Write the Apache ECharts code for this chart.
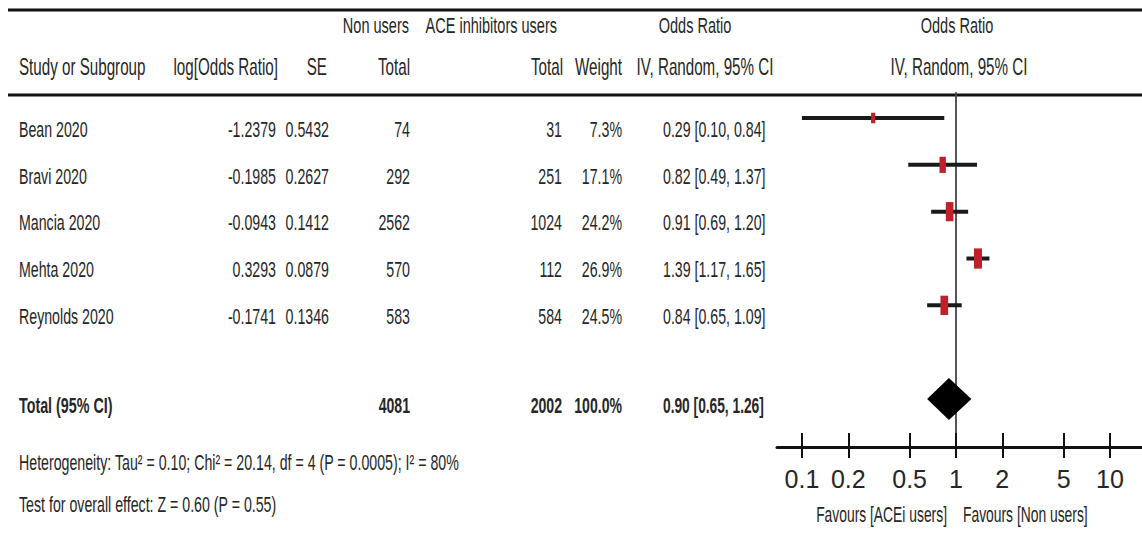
<!DOCTYPE html>
<html><head><meta charset="utf-8">
<script src="https://cdn.jsdelivr.net/npm/echarts@6/dist/echarts.min.js"></script>
<style>html,body{margin:0;padding:0;background:#fff}#c{width:1142px;height:537px}</style>
</head><body><div id="c"></div>
<script>
// ---------------- data ----------------
const studies = ['Bean 2020', 'Bravi 2020', 'Mancia 2020', 'Mehta 2020', 'Reynolds 2020'];
const logOddsRatio = ['-1.2379', '-0.1985', '-0.0943', '0.3293', '-0.1741'];
const standardError = ['0.5432', '0.2627', '0.1412', '0.0879', '0.1346'];
const nonUsersTotal = [74, 292, 2562, 570, 583];
const aceUsersTotal = [31, 251, 1024, 112, 584];
const weights = [7.3, 17.1, 24.2, 26.9, 24.5];
const oddsRatio = [0.29, 0.82, 0.91, 1.39, 0.84];
const ciLower = [0.10, 0.49, 0.69, 1.17, 0.65];
const ciUpper = [0.84, 1.37, 1.20, 1.65, 1.09];

const totalLabel = 'Total (95% CI)';
const totalNonUsers = 4081;
const totalAceUsers = 2002;
const totalWeight = 100.0;
const totalOR = 0.90;
const totalLower = 0.65;
const totalUpper = 1.26;

const tickValues = [0.1, 0.2, 0.5, 1, 2, 5, 10];
const tickLabels = ['0.1', '0.2', '0.5', '1', '2', '5', '10'];

const headerRow1 = ['Non users', 'ACE inhibitors users', 'Odds Ratio', 'Odds Ratio'];
const headerRow2 = ['Study or Subgroup', 'log[Odds Ratio]', 'SE', 'Total', 'Total', 'Weight', 'IV, Random, 95% CI', 'IV, Random, 95% CI'];
const heterogeneityText = 'Heterogeneity: Tau\u00b2 = 0.10; Chi\u00b2 = 20.14, df = 4 (P = 0.0005); I\u00b2 = 80%';
const overallEffectText = 'Test for overall effect: Z = 0.60 (P = 0.55)';
const favoursLabels = ['Favours [ACEi users]', 'Favours [Non users]'];

// ---------------- helpers ----------------
const FONT = 'Liberation Sans, Arial, sans-serif';
const TXT = '#262626';
function txt(s, x, y, align, size, sx, bold) {
  return {
    type: 'text', x: x, y: y, scaleX: sx, silent: true,
    style: {
      text: s, x: 0, y: 0, align: align, verticalAlign: 'middle',
      font: (bold ? 'bold ' : '') + size + 'px ' + FONT, fill: TXT
    }
  };
}
function hline(y, x1, x2, w) {
  return { type: 'line', silent: true, shape: { x1: x1, y1: y, x2: x2, y2: y }, style: { stroke: '#111', lineWidth: w } };
}
const f2 = v => v.toFixed(2);
const ciText = (o, l, h) => f2(o) + ' [' + f2(l) + ', ' + f2(h) + ']';

// layout anchors
const colStudy = 19, colLog = 276, colSE = 329, colNon = 410, colAce = 562, colW = 622, colCI = 663;
const rowY0 = 129, rowStep = 46.8, totalY = 405;
const BS = 22, BX = 0.645;      // body font size / horizontal scale
const HS = 23, HX = 0.66;       // header font size / horizontal scale

const g = [];
g.push(hline(10, 8, 1142, 3));
g.push(hline(95, 8, 1142, 3));
// header row 1
g.push(txt(headerRow1[0], 409, 25, 'right', 22, 0.66));
g.push(txt(headerRow1[1], 557, 25, 'right', 22, 0.66));
g.push(txt(headerRow1[2], 695, 25, 'center', 22, 0.66));
g.push(txt(headerRow1[3], 957, 25, 'center', 22, 0.66));
// header row 2
const hy = 67;
g.push(txt(headerRow2[0], colStudy, hy, 'left', HS, HX));
g.push(txt(headerRow2[1], 278, hy, 'right', HS, HX));
g.push(txt(headerRow2[2], 327, hy, 'right', HS, HX));
g.push(txt(headerRow2[3], colNon, hy, 'right', HS, HX));
g.push(txt(headerRow2[4], 563, hy, 'right', HS, HX));
g.push(txt(headerRow2[5], colW, hy, 'right', HS, HX));
g.push(txt(headerRow2[6], 705, hy, 'center', HS, HX));
g.push(txt(headerRow2[7], 959, hy, 'center', HS, HX));
// study rows
studies.forEach((s, i) => {
  const y = rowY0 + i * rowStep;
  g.push(txt(s, colStudy, y, 'left', BS, BX));
  g.push(txt(logOddsRatio[i], colLog, y, 'right', BS, BX));
  g.push(txt(standardError[i], colSE, y, 'right', BS, BX));
  g.push(txt(String(nonUsersTotal[i]), colNon, y, 'right', BS, BX));
  g.push(txt(String(aceUsersTotal[i]), colAce, y, 'right', BS, BX));
  g.push(txt(weights[i].toFixed(1) + '%', colW, y, 'right', BS, BX));
  g.push(txt(ciText(oddsRatio[i], ciLower[i], ciUpper[i]), colCI, y, 'left', BS, BX));
});
// total row
g.push(txt(totalLabel, colStudy, totalY, 'left', BS, 0.65, true));
g.push(txt(String(totalNonUsers), colNon, totalY, 'right', BS, 0.64, true));
g.push(txt(String(totalAceUsers), colAce, totalY, 'right', BS, 0.64, true));
g.push(txt(totalWeight.toFixed(1) + '%', colW, totalY, 'right', BS, 0.64, true));
g.push(txt(ciText(totalOR, totalLower, totalUpper), colCI, totalY, 'left', BS, 0.625, true));
// footnotes
g.push(txt(heterogeneityText, colStudy, 462, 'left', BS, BX));
g.push(txt(overallEffectText, colStudy, 504, 'left', BS, BX));
// favours labels
g.push(txt(favoursLabels[0], 947, 514, 'right', BS, 0.63));
g.push(txt(favoursLabels[1], 963, 514, 'left', BS, 0.63));

// ---------------- chart ----------------
const chart = echarts.init(document.getElementById('c'), null, { renderer: 'svg' });
const logTicks = tickValues.map(v => Math.log10(v));
const studyData = studies.map((s, i) => [Math.log10(oddsRatio[i]), Math.log10(ciLower[i]), Math.log10(ciUpper[i]), i, weights[i]]);
const totalRowIndex = studies.length + 1;
const totalData = [[Math.log10(totalOR), Math.log10(totalLower), Math.log10(totalUpper), totalRowIndex]];

const labelFor = v => {
  const k = logTicks.findIndex(t => Math.abs(t - v) < 1e-6);
  return k >= 0 ? tickLabels[k] : '';
};

chart.setOption({
  animation: false,
  backgroundColor: '#fff',
  grid: { left: 777, right: 0, top: 93, bottom: 90, containLabel: false },
  xAxis: [
    {
      type: 'value', position: 'bottom', min: -1.162, max: 1.208,
      axisLine: { show: true, onZero: false, lineStyle: { color: '#111', width: 3 } },
      axisTick: { show: true, inside: false, length: 11, customValues: logTicks, lineStyle: { color: '#111', width: 2 } },
      axisLabel: {
        show: true, customValues: logTicks, formatter: labelFor, margin: 19,
        fontFamily: 'Liberation Sans',
        fontSize: 25, color: TXT
      },
      splitLine: { show: false }
    },
    {
      type: 'value', position: 'bottom', min: -1.162, max: 1.208,
      axisLine: { show: false, onZero: false },
      axisTick: { show: true, inside: true, length: 14, customValues: logTicks, lineStyle: { color: '#111', width: 2 } },
      axisLabel: { show: false },
      splitLine: { show: false }
    }
  ],
  yAxis: {
    type: 'value', inverse: true, min: -0.534, max: 7.025,
    axisLine: { show: true, onZero: true, lineStyle: { color: '#444', width: 1.8 } },
    axisTick: { show: false }, axisLabel: { show: false }, splitLine: { show: false }
  },
  series: [
    {
      type: 'custom', xAxisIndex: 0, data: studyData, silent: true, z: 3,
      renderItem: function (params, api) {
        const i = api.value(3);
        const p = api.coord([api.value(0), i]);
        const l = api.coord([api.value(1), i]);
        const h = api.coord([api.value(2), i]);
        const w = api.value(4);
        const mw = 1.55 * Math.sqrt(w), mh = 3.9 * Math.sqrt(w);
        return {
          type: 'group', children: [
            { type: 'line', shape: { x1: l[0], y1: l[1], x2: h[0], y2: h[1] }, style: { stroke: '#1a1a1a', lineWidth: 4 } },
            { type: 'rect', shape: { x: p[0] - mw / 2, y: p[1] - mh / 2, width: mw, height: mh }, style: { fill: '#c0202a' } }
          ]
        };
      }
    },
    {
      type: 'custom', xAxisIndex: 0, data: totalData, silent: true, z: 3,
      renderItem: function (params, api) {
        const i = api.value(3);
        const p = api.coord([api.value(0), i]);
        const l = api.coord([api.value(1), i]);
        const h = api.coord([api.value(2), i]);
        const half = 21;
        return {
          type: 'polygon',
          shape: { points: [[l[0], p[1]], [p[0], p[1] - half], [h[0], p[1]], [p[0], p[1] + half]] },
          style: { fill: '#000' }
        };
      }
    }
  ],
  graphic: g
});
</script>
</body></html>
